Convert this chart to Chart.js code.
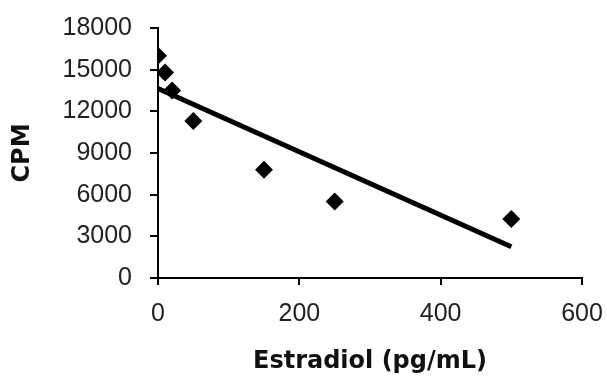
<!DOCTYPE html>
<html>
<head>
<meta charset="utf-8">
<script src="https://cdn.jsdelivr.net/npm/chart.js@4.4.0/dist/chart.umd.min.js"></script>
<style>
  html, body { margin: 0; padding: 0; background: #fff; }
  #wrap { width: 607px; height: 378px; }
</style>
</head>
<body>
<div id="wrap"><canvas id="myChart" width="607" height="378"></canvas></div>
<script>
const estradiol = [0, 10, 20, 50, 150, 250, 500];
const cpm = [16000, 14800, 13500, 11300, 7800, 5500, 4250];

// trend line end points
const trendX = [0, 500];
const trendY = [13650, 2250];

const xTicks = [0, 200, 400, 600];
const yTicks = [0, 3000, 6000, 9000, 12000, 15000, 18000];

document.addEventListener('DOMContentLoaded', () => {
    const points = estradiol.map((x, i) => ({ x: x, y: cpm[i] }));
    const trend = trendX.map((x, i) => ({ x: x, y: trendY[i] }));

    const tickFont = { family: 'Liberation Sans, Arial, sans-serif', size: 25 };
    const titleFont = { family: 'DejaVu Sans, Verdana, sans-serif', size: 24, weight: 'bold' };

    // keep the plot box where the reference has it
    const noPad = scale => {
        scale.paddingLeft = 0;
        scale.paddingRight = 0;
        scale.paddingTop = 0;
        scale.paddingBottom = 0;
    };

    const ctx = document.getElementById('myChart').getContext('2d');
    new Chart(ctx, {
        type: 'scatter',
        data: {
            datasets: [
                {
                    label: 'CPM',
                    data: points,
                    pointStyle: 'rectRot',
                    pointRadius: 9,
                    backgroundColor: '#000',
                    borderColor: '#000',
                    borderWidth: 0,
                    showLine: false
                },
                {
                    label: 'Trend',
                    data: trend,
                    showLine: true,
                    borderColor: '#000',
                    borderWidth: 5,
                    pointRadius: 0,
                    fill: false
                }
            ]
        },
        options: {
            responsive: false,
            animation: false,
            layout: { padding: { left: 0, right: 25, top: 28, bottom: 0 } },
            plugins: {
                legend: { display: false },
                tooltip: { enabled: false }
            },
            scales: {
                x: {
                    type: 'linear',
                    min: 0,
                    max: 600,
                    afterBuildTicks: scale => { scale.ticks = xTicks.map(v => ({ value: v })); },
                    afterFit: scale => { scale.height = 100; noPad(scale); },
                    grid: { drawOnChartArea: false, drawTicks: true, tickLength: 7, color: '#000', lineWidth: 2 },
                    border: { color: '#000', width: 2 },
                    ticks: { color: '#222', font: tickFont, padding: 14, maxRotation: 0, callback: v => String(v) },
                    title: { display: true, text: 'Estradiol (pg/mL)', color: '#111', font: titleFont, padding: { top: 0, bottom: 2 } }
                },
                y: {
                    type: 'linear',
                    min: 0,
                    max: 18000,
                    afterBuildTicks: scale => { scale.ticks = yTicks.map(v => ({ value: v })); },
                    afterFit: scale => { scale.width = 158; noPad(scale); },
                    grid: { drawOnChartArea: false, drawTicks: true, tickLength: 8, color: '#000', lineWidth: 2 },
                    border: { color: '#000', width: 2 },
                    ticks: { color: '#222', font: tickFont, padding: 18, callback: v => String(v) },
                    title: { display: true, text: 'CPM', color: '#111', font: titleFont, padding: { top: 8, bottom: 0 } }
                }
            }
        }
    });
});
</script>
</body>
</html>
